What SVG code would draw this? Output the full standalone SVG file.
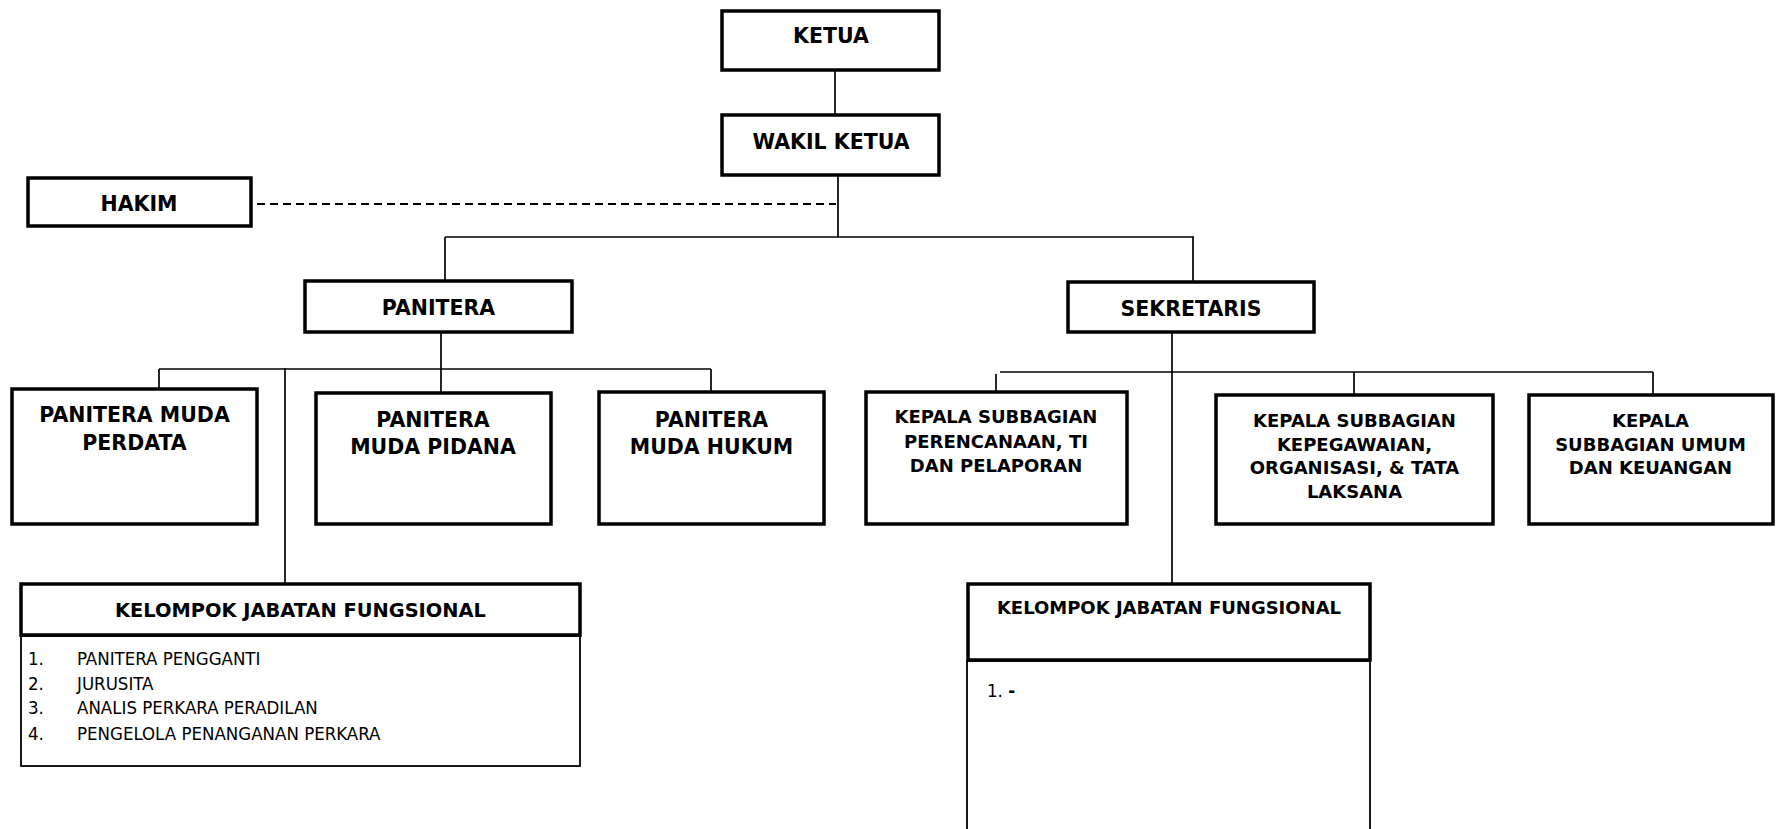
<svg xmlns="http://www.w3.org/2000/svg" width="1785" height="829" viewBox="0 0 1785 829">
<style>
.box{fill:#fff;stroke:#000;stroke-width:3.5}
.body{fill:#fff;stroke:#000;stroke-width:1.8}
.ln{stroke:#000;stroke-width:1.7;fill:none}
.dash{stroke:#000;stroke-width:1.8;stroke-dasharray:8 5;fill:none}
.t{font-family:"DejaVu Sans","Verdana",sans-serif;font-weight:bold;fill:#000;text-anchor:middle}
.t20{font-size:20.5px}
.t18{font-size:18px}
.li{font-family:"DejaVu Sans Condensed","DejaVu Sans",sans-serif;font-stretch:condensed;font-size:18.5px;fill:#000}
</style>
<rect width="1785" height="829" fill="#fff"/>
<g id="connectors">
<line class="ln" x1="835" y1="71" x2="835" y2="114"/>
<line class="ln" x1="838" y1="174" x2="838" y2="237"/>
<line class="ln" x1="445" y1="237" x2="1194" y2="237"/>
<line class="ln" x1="445" y1="237" x2="445" y2="280"/>
<line class="ln" x1="1193" y1="237" x2="1193" y2="281"/>
<line class="dash" x1="257" y1="204" x2="836" y2="204"/>
<line class="ln" x1="441" y1="333" x2="441" y2="392"/>
<line class="ln" x1="159" y1="369" x2="711" y2="369"/>
<line class="ln" x1="159" y1="369" x2="159" y2="388"/>
<line class="ln" x1="711" y1="369" x2="711" y2="391"/>
<line class="ln" x1="285" y1="368" x2="285" y2="583"/>
<line class="ln" x1="1172" y1="333" x2="1172" y2="583"/>
<line class="ln" x1="1000" y1="372" x2="1653" y2="372"/>
<line class="ln" x1="996" y1="374" x2="996" y2="391"/>
<line class="ln" x1="1354" y1="372" x2="1354" y2="394"/>
<line class="ln" x1="1653" y1="372" x2="1653" y2="394"/>
</g>
<g id="ketua">
<rect class="box" x="722" y="11" width="217" height="59"/>
<text class="t t20" x="831" y="43">KETUA</text>
</g>
<g id="wakil-ketua">
<rect class="box" x="722" y="115" width="217" height="60"/>
<text class="t t20" x="831" y="149">WAKIL KETUA</text>
</g>
<g id="hakim">
<rect class="box" x="28" y="178" width="223" height="48"/>
<text class="t t20" x="139" y="211">HAKIM</text>
</g>
<g id="panitera">
<rect class="box" x="305" y="281" width="267" height="51"/>
<text class="t t20" x="438.5" y="315">PANITERA</text>
</g>
<g id="sekretaris">
<rect class="box" x="1068" y="282" width="246" height="50"/>
<text class="t t20" x="1191" y="316">SEKRETARIS</text>
</g>
<g id="pm-perdata">
<rect class="box" x="12" y="389" width="245" height="135"/>
<text class="t t20" x="134.5" y="422">PANITERA MUDA</text>
<text class="t t20" x="134.5" y="450">PERDATA</text>
</g>
<g id="pm-pidana">
<rect class="box" x="316" y="393" width="235" height="131"/>
<text class="t t20" x="433" y="427">PANITERA</text>
<text class="t t20" x="433" y="454">MUDA PIDANA</text>
</g>
<g id="pm-hukum">
<rect class="box" x="599" y="392" width="225" height="132"/>
<text class="t t20" x="711.5" y="427">PANITERA</text>
<text class="t t20" x="711.5" y="454">MUDA HUKUM</text>
</g>
<g id="ks-perencanaan">
<rect class="box" x="866" y="392" width="261" height="132"/>
<text class="t t18" x="996" y="423">KEPALA SUBBAGIAN</text>
<text class="t t18" x="996" y="448">PERENCANAAN, TI</text>
<text class="t t18" x="996" y="472">DAN PELAPORAN</text>
</g>
<g id="ks-kepegawaian">
<rect class="box" x="1216" y="395" width="277" height="129"/>
<text class="t t18" x="1354.5" y="427">KEPALA SUBBAGIAN</text>
<text class="t t18" x="1354.5" y="451">KEPEGAWAIAN,</text>
<text class="t t18" x="1354.5" y="474">ORGANISASI, &amp; TATA</text>
<text class="t t18" x="1354.5" y="498">LAKSANA</text>
</g>
<g id="ks-umum">
<rect class="box" x="1529" y="395" width="244" height="129"/>
<text class="t t18" x="1650.5" y="427">KEPALA</text>
<text class="t t18" x="1650.5" y="451">SUBBAGIAN UMUM</text>
<text class="t t18" x="1650.5" y="474">DAN KEUANGAN</text>
</g>
<g id="kjf-panitera">
<rect class="body" x="21" y="636" width="559" height="130"/>
<rect class="box" x="21" y="584" width="559" height="51"/>
<text class="t" style="font-size:19.4px" x="300.5" y="617">KELOMPOK JABATAN FUNGSIONAL</text>
<text class="li" x="28" y="665">1.</text><text class="li" x="77" y="665">PANITERA PENGGANTI</text>
<text class="li" x="28" y="690">2.</text><text class="li" x="77" y="690">JURUSITA</text>
<text class="li" x="28" y="714">3.</text><text class="li" x="77" y="714">ANALIS PERKARA PERADILAN</text>
<text class="li" x="28" y="740">4.</text><text class="li" x="77" y="740">PENGELOLA PENANGANAN PERKARA</text>
</g>
<g id="kjf-sekretaris">
<rect class="body" x="967" y="661" width="403" height="190"/>
<rect class="box" x="968" y="584" width="402" height="76"/>
<text class="t t18" x="1169" y="614">KELOMPOK JABATAN FUNGSIONAL</text>
<text class="li" x="987" y="697">1. <tspan style="font-weight:bold">-</tspan></text>
</g>
</svg>
